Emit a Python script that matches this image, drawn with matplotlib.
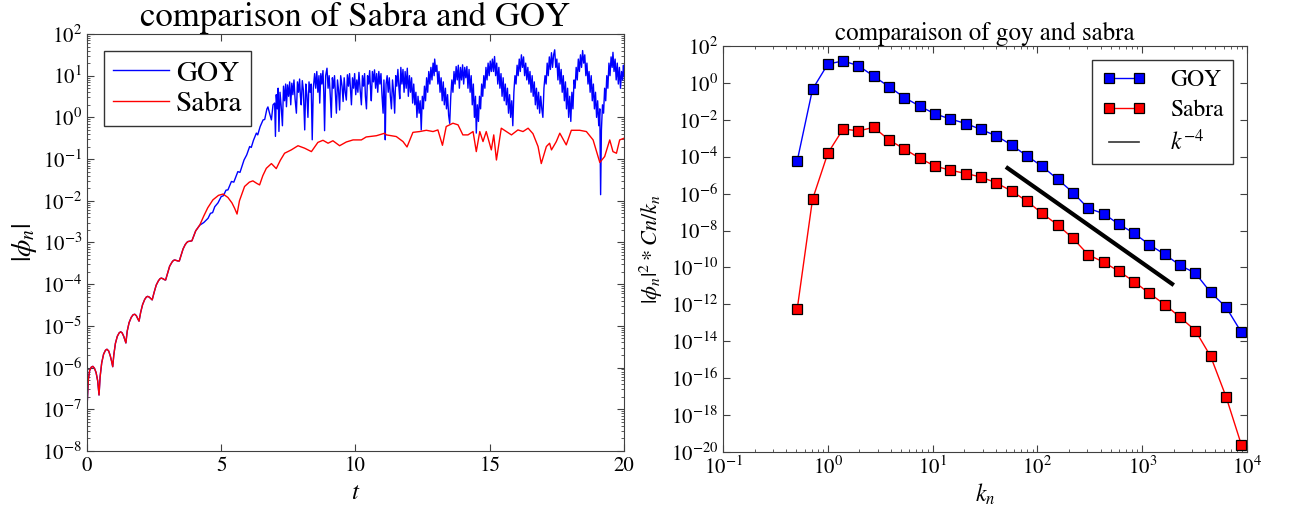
import numpy as np
import matplotlib
matplotlib.use("Agg")
import matplotlib.pyplot as plt
from matplotlib.lines import Line2D
from matplotlib.ticker import LogLocator, LogFormatterSciNotation, NullLocator, MultipleLocator

# ---------------- data: left panel (time series) ----------------
early_t = [0.0, 0.05, 0.1, 0.16, 0.22, 0.28, 0.34, 0.40, 0.45, 0.49, 0.55, 0.62, 0.69, 0.745,
           0.81, 0.87, 0.92, 0.96, 1.0, 1.06, 1.13, 1.2, 1.255, 1.31, 1.37, 1.42, 1.45, 1.5,
           1.57, 1.65, 1.72, 1.78, 1.84, 1.9, 1.94, 2.0, 2.07, 2.15, 2.21, 2.26, 2.32, 2.38,
           2.43, 2.5, 2.58, 2.66, 2.72, 2.77, 2.83, 2.89, 2.93, 3.0, 3.08, 3.17, 3.22, 3.27,
           3.33, 3.39, 3.44, 3.5, 3.58, 3.66, 3.72, 3.76, 3.82, 3.87, 3.91, 3.98, 4.05, 4.12, 4.2]
early_v = [1.0e-7, 5.0e-7, 8.5e-7, 1.02e-6, 1.07e-6, 9.6e-7, 7.6e-7, 4.8e-7, 2.2e-7, 6.0e-7,
           1.3e-6, 2.1e-6, 2.6e-6, 2.75e-6, 2.5e-6, 1.9e-6, 1.4e-6, 1.05e-6, 2.0e-6, 3.8e-6,
           5.6e-6, 6.8e-6, 7.2e-6, 6.8e-6, 5.6e-6, 4.5e-6, 3.9e-6, 7.5e-6, 1.2e-5, 1.6e-5,
           1.85e-5, 1.9e-5, 1.75e-5, 1.45e-5, 1.3e-5, 2.1e-5, 3.2e-5, 4.3e-5, 4.9e-5, 5.1e-5,
           4.9e-5, 4.5e-5, 4.2e-5, 6.3e-5, 9.5e-5, 1.2e-4, 1.35e-4, 1.4e-4, 1.35e-4, 1.28e-4,
           1.26e-4, 1.8e-4, 2.7e-4, 3.4e-4, 3.7e-4, 3.8e-4, 3.7e-4, 3.6e-4, 3.6e-4, 4.8e-4,
           7.0e-4, 8.9e-4, 1.0e-3, 1.05e-3, 1.07e-3, 1.08e-3, 1.1e-3, 1.45e-3, 1.9e-3, 2.2e-3,
           2.6e-3]

sabra_t_late = [4.35, 4.5, 4.69, 4.9, 5.07, 5.25, 5.4, 5.5, 5.59, 5.68, 5.87, 6.05, 6.18, 6.33,
                6.43, 6.55, 6.68, 6.87, 7.05, 7.2, 7.36, 7.61, 7.86, 8.11, 8.36, 8.6, 8.79,
                8.98, 9.16, 9.41, 9.66, 9.91, 10.22, 10.4, 10.78, 11.09, 11.15, 11.52, 11.77,
                11.92, 12.14, 12.39, 12.64, 12.89, 13.07, 13.24, 13.38, 13.63, 13.82, 14.0,
                14.19, 14.38, 14.5, 14.63, 14.75, 14.87, 15.06, 15.15, 15.25, 15.43, 15.62,
                15.81, 16.05, 16.24, 16.43, 16.61, 16.8, 16.92, 17.11, 17.23, 17.3, 17.48,
                17.61, 17.85, 18.04, 18.35, 18.6, 18.85, 19.0, 19.1, 19.28, 19.47, 19.59,
                19.72, 19.84, 20.0]
sabra_v_late = [4.3e-3, 6.8e-3, 1.05e-2, 1.35e-2, 1.45e-2, 1.2e-2, 8.9e-3, 6.6e-3, 4.8e-3,
                1.0e-2, 2.2e-2, 2.8e-2, 3.0e-2, 2.6e-2, 2.4e-2, 4.0e-2, 6.0e-2, 7.8e-2,
                5.9e-2, 9.3e-2, 0.138, 0.166, 0.209, 0.182, 0.151, 0.251, 0.282, 0.24,
                0.275, 0.209, 0.257, 0.288, 0.288, 0.339, 0.363, 0.417, 0.38, 0.347, 0.263,
                0.195, 0.437, 0.457, 0.49, 0.457, 0.5, 0.214, 0.603, 0.724, 0.661, 0.38,
                0.38, 0.457, 0.151, 0.457, 0.263, 0.457, 0.166, 0.38, 0.095, 0.55, 0.457,
                0.38, 0.5, 0.457, 0.55, 0.407, 0.2, 0.078, 0.2, 0.24, 0.166, 0.263, 0.417,
                0.219, 0.49, 0.49, 0.457, 0.288, 0.138, 0.083, 0.115, 0.288, 0.151, 0.138,
                0.288, 0.316]

goy_t_late = [4.35, 4.51, 4.6, 4.68, 4.76, 4.88, 5.0, 5.08, 5.18, 5.25, 5.38, 5.47, 5.62, 5.7,
              5.85, 5.95, 6.06, 6.12, 6.2, 6.31, 6.36, 6.45, 6.56, 6.62, 6.7, 6.74, 6.8,
              6.87, 6.93, 6.99,
              7.02, 7.05, 7.09, 7.12, 7.15, 7.19, 7.23, 7.28, 7.32, 7.36, 7.40, 7.43, 7.47,
              7.51, 7.55, 7.59, 7.63, 7.67, 7.71, 7.75, 7.80, 7.84, 7.88, 7.92, 7.95, 7.98,
              8.02, 8.06, 8.11, 8.15, 8.19, 8.23, 8.27, 8.31, 8.35, 8.39, 8.43, 8.48, 8.52,
              8.56, 8.60, 8.64, 8.67, 8.71, 8.75, 8.79, 8.82, 8.85, 8.89, 8.94, 8.98, 9.02,
              9.06, 9.10, 9.14, 9.18, 9.22, 9.26, 9.29, 9.33, 9.37, 9.41, 9.45, 9.50, 9.54,
              9.58, 9.62, 9.66, 9.70, 9.74, 9.78, 9.82, 9.85, 9.89, 9.93, 9.97, 10.01, 10.05,
              10.09, 10.13, 10.17, 10.22, 10.26, 10.30, 10.34, 10.37, 10.41, 10.45, 10.49,
              10.53, 10.56, 10.59, 10.63, 10.67, 10.71, 10.75, 10.79, 10.83, 10.87, 10.91,
              10.95, 10.99, 11.03, 11.06, 11.09, 11.11, 11.14, 11.18, 11.22, 11.26, 11.30,
              11.34, 11.38, 11.42, 11.46, 11.50, 11.54, 11.58, 11.62, 11.65, 11.69, 11.73,
              11.77, 11.81, 11.85, 11.89, 11.93, 11.97, 12.01, 12.05, 12.09, 12.13, 12.17,
              12.21, 12.25, 12.29, 12.33, 12.37, 12.41, 12.45, 12.49, 12.53, 12.57, 12.61,
              12.65, 12.69, 12.73, 12.77, 12.81, 12.85, 12.89, 12.93, 12.95, 12.99, 13.03,
              13.07, 13.11, 13.15, 13.19, 13.23, 13.27, 13.31, 13.35, 13.39, 13.43, 13.47,
              13.51, 13.55, 13.59, 13.63, 13.67, 13.71, 13.75, 13.79, 13.83, 13.87, 13.91,
              13.95, 13.99, 14.03, 14.07, 14.11, 14.15, 14.19, 14.23, 14.27, 14.31, 14.35,
              14.39, 14.43, 14.47, 14.50, 14.54, 14.58, 14.62, 14.66, 14.70, 14.74, 14.78,
              14.82, 14.86, 14.90, 14.94, 14.98, 15.02, 15.06, 15.10, 15.14, 15.18, 15.22,
              15.26, 15.30, 15.34, 15.38, 15.42, 15.46, 15.50, 15.54, 15.58, 15.62, 15.66,
              15.70, 15.74, 15.78, 15.82, 15.86, 15.90, 15.94, 15.98, 16.02, 16.06, 16.10,
              16.14, 16.18, 16.22, 16.26, 16.30, 16.34, 16.38, 16.42, 16.46, 16.50, 16.54,
              16.58, 16.62, 16.66, 16.70, 16.74, 16.78, 16.82, 16.86, 16.90, 16.94, 16.98,
              17.02, 17.06, 17.10, 17.14, 17.18, 17.22, 17.26, 17.30, 17.34, 17.38, 17.42,
              17.46, 17.50, 17.54, 17.58, 17.62, 17.66, 17.70, 17.74, 17.78, 17.82, 17.86,
              17.90, 17.94, 17.98, 18.02, 18.06, 18.10, 18.14, 18.18, 18.22, 18.26, 18.30,
              18.34, 18.38, 18.42, 18.46, 18.50, 18.54, 18.58, 18.62, 18.66, 18.70, 18.74,
              18.78, 18.82, 18.86, 18.90, 18.94, 18.98, 19.02, 19.06, 19.10, 19.13, 19.16,
              19.20, 19.24, 19.28, 19.32, 19.36, 19.40, 19.44, 19.48, 19.52, 19.56, 19.59,
              19.63, 19.67, 19.71, 19.75, 19.79, 19.83, 19.87, 19.91, 19.95, 19.98, 20.0]
goy_v_late = [3.0e-3, 3.8e-3, 5.0e-3, 5.2e-3, 7.2e-3, 8.9e-3, 1.26e-2, 1.32e-2, 1.8e-2, 1.82e-2,
              2.9e-2, 2.8e-2, 5.0e-2, 4.8e-2, 9.5e-2, 0.126, 0.2, 0.19, 0.28, 0.42, 0.38,
              0.6, 0.87, 0.89, 1.58, 1.78, 1.26, 0.87, 2.0, 2.2,
              0.35, 3.5, 1.6, 5.0, 0.46, 4.0, 2.0, 0.63, 5.6, 2.5, 6.3, 1.8, 6.0,
              3.2, 7.1, 2.0, 6.6, 3.5, 7.9, 2.8, 1.26, 7.1, 4.0, 8.3, 3.2, 2.0,
              7.6, 4.5, 0.5, 6.3, 3.5, 1.0, 7.1, 4.0, 6.3, 0.29, 5.0, 11.2, 5.0,
              12.6, 4.0, 10.0, 2.2, 11.2, 6.3, 13.2, 4.0, 0.48, 10.0, 15.1, 5.0, 10.0,
              3.5, 1.0, 8.9, 5.0, 10.0, 3.2, 1.26, 7.9, 4.5, 1.5, 10.0, 5.6, 2.4,
              8.9, 4.0, 2.6, 10.5, 5.6, 11.2, 4.0, 2.0, 8.9, 5.0, 11.2, 3.5, 7.9,
              4.0, 12.0, 5.0, 2.0, 10.0, 5.6, 11.2, 3.2, 1.6, 10.0, 6.3,
              13.2, 5.0, 2.5, 12.6, 7.1, 13.8, 5.0, 11.2, 4.0, 12.6, 6.3,
              11.2, 3.2, 1.26, 7.9, 2.0, 0.29, 6.3, 10.0, 4.0, 8.9, 3.2,
              1.6, 7.9, 4.0, 1.26, 10.0, 5.6, 14.1, 5.0, 2.8, 15.8, 6.3,
              14.1, 4.0, 12.6, 5.0, 15.1, 3.2, 10.0, 4.0, 8.9, 2.2, 6.3,
              2.0, 4.0, 1.0, 3.2, 1.26, 2.5, 0.5, 3.2, 1.6, 5.6, 2.5,
              8.9, 4.0, 12.6, 6.3, 15.8, 7.9, 20.0, 10.0, 25.0, 12.6, 17.8,
              6.3, 12.6, 4.0, 8.9, 2.5, 7.1, 2.0, 5.0, 1.6, 3.5, 1.12,
              0.72, 3.2, 7.9, 4.0, 12.6, 6.3, 16.6, 7.9, 17.8, 5.0, 15.8,
              7.9, 18.2, 6.3, 15.8, 8.9, 16.6, 5.0, 14.1, 4.0, 10.0, 2.0,
              6.3, 1.0, 3.2, 0.42, 2.0, 0.8, 3.2, 1.6, 6.3, 3.2, 10.0,
              5.0, 15.8, 7.9, 20.0, 10.0, 22.4, 12.6, 25.0, 12.6, 28.8, 10.0,
              20.0, 6.3, 15.8, 5.0, 11.2, 3.2, 8.9, 2.5, 6.3, 2.0, 5.0,
              1.26, 3.5, 1.0, 2.5, 0.63, 4.0, 10.0, 6.3, 17.8, 10.0, 25.0,
              12.6, 31.6, 15.8, 28.2, 10.0, 20.0, 7.9, 15.8, 6.3, 12.6, 4.0,
              10.0, 3.2, 7.1, 2.0, 5.0, 1.6, 4.0, 1.26, 3.2, 1.6, 1.0,
              5.0, 10.0, 6.3, 20.0, 10.0, 28.2, 14.1, 35.5, 15.8, 31.6, 41.7,
              15.8, 25.0, 7.9, 20.0, 6.3, 14.1, 4.0, 10.0, 2.5, 7.1, 1.6,
              5.0, 1.0, 3.2, 0.8, 4.0, 1.6, 7.9, 5.0, 15.8, 7.9, 25.0,
              12.6, 31.6, 15.8, 40.0, 20.0, 31.6, 10.0, 20.0, 6.3, 12.6, 4.0,
              10.0, 2.5, 6.3, 1.6, 4.0, 1.0, 2.5, 0.63, 1.6, 0.014, 0.5,
              2.0, 1.26, 5.0, 2.5, 10.0, 5.0, 20.0, 10.0, 28.2, 15.8, 36.3,
              12.6, 25.0, 7.9, 20.0, 6.3, 15.8, 5.0, 12.6, 7.9, 17.8, 10.0]

goy_t = early_t + goy_t_late
goy_v = early_v + goy_v_late
sabra_t = early_t + sabra_t_late
sabra_v = early_v + sabra_v_late

# ---------------- data: right panel (spectra) ----------------
k_n = [0.51, 0.714, 1.0, 1.4, 1.96, 2.74, 3.84, 5.38, 7.53, 10.5, 14.8, 20.7, 28.9, 40.5,
       56.7, 79.4, 111.0, 156.0, 218.0, 305.0, 427.0, 598.0, 837.0, 1171.0, 1640.0,
       2296.0, 3214.0, 4500.0, 6300.0, 8820.0]
goy_spec = [5.9e-5, 0.45, 10.5, 15.5, 8.5, 2.3, 0.62, 0.16, 5.5e-2, 2.1e-2, 1.1e-2,
            6.3e-3, 3.0e-3, 1.35e-3, 4.3e-4, 1.1e-4, 3.0e-5, 6.0e-6, 1.15e-6, 1.6e-7,
            8.3e-8, 2.2e-8, 7.1e-9, 1.7e-9, 5.1e-10, 1.3e-10, 4.9e-11, 4.4e-12, 7.1e-13,
            3.1e-14]
sabra_spec = [5.5e-13, 4.9e-7, 1.55e-4, 3.2e-3, 2.5e-3, 3.9e-3, 8.1e-4, 2.6e-4, 8.3e-5,
              3.1e-5, 1.86e-5, 1.23e-5, 8.0e-6, 3.8e-6, 1.38e-6, 3.9e-7, 8.5e-8, 2.0e-8,
              3.8e-9, 4.9e-10, 1.95e-10, 6.2e-11, 1.7e-11, 3.9e-12, 9.8e-13, 2.0e-13,
              3.8e-14, 1.5e-15, 1.0e-17, 2.5e-20]
ref_k = [50.0, 2000.0]
ref_v = [2.8e-5, 1.1e-11]

# ---------------- style ----------------
plt.rcParams.update({
    "font.family": "serif",
    "font.serif": ["STIXGeneral", "DejaVu Serif"],
    "mathtext.fontset": "stix",
    "xtick.direction": "in",
    "ytick.direction": "in",
    "xtick.top": True,
    "ytick.right": True,
    "xtick.major.size": 5,
    "ytick.major.size": 5,
    "xtick.minor.size": 2.5,
    "ytick.minor.size": 2.5,
    "axes.edgecolor": "0.25",
    "xtick.color": "0.25",
    "ytick.color": "0.25",
    "xtick.labelcolor": "black",
    "ytick.labelcolor": "black",
})

fig = plt.figure(figsize=(12.9, 5.07), dpi=100)
ax1 = fig.add_axes([0.0674, 0.1105, 0.4163, 0.8225])
ax2 = fig.add_axes([0.5605, 0.1085, 0.4062, 0.8008])

# left panel
ax1.plot(goy_t, goy_v, color="#0000ff", lw=1.0, label="GOY")
ax1.plot(sabra_t, sabra_v, color="#ff0000", lw=1.0, label="Sabra")
ax1.set_yscale("log")
ax1.set_xlim(0, 20)
ax1.set_ylim(1e-8, 1e2)
ax1.xaxis.set_major_locator(MultipleLocator(5))
ax1.yaxis.set_major_locator(LogLocator(base=10, numticks=20))
ax1.yaxis.set_minor_locator(LogLocator(base=10, subs=np.arange(2, 10), numticks=20))
ax1.tick_params(labelsize=15)
ax1.set_xlabel("$t$", fontsize=18)
ax1.set_ylabel(r"$|\phi_n|$", fontsize=20, labelpad=2)
ax1.set_title("comparison of Sabra and GOY", fontsize=25, pad=4)
leg1 = ax1.legend(loc="upper left", fontsize=21, fancybox=False, framealpha=1,
                  edgecolor="0.2", handlelength=1.9, handletextpad=0.25,
                  borderpad=0.3, labelspacing=0.15, borderaxespad=0.6)
leg1.get_frame().set_linewidth(1.0)

# right panel
ax2.loglog(k_n, goy_spec, color="#0000ff", lw=1.0, marker="s", ms=6.5,
           mec="black", mew=0.9, label="GOY")
ax2.loglog(k_n, sabra_spec, color="#ff0000", lw=1.0, marker="s", ms=6.5,
           mec="black", mew=0.9, label="Sabra")
ax2.loglog(ref_k, ref_v, color="black", lw=3, solid_capstyle="butt")
ax2.set_xlim(1e-1, 1e4)
ax2.set_ylim(1e-20, 1e2)
ax2.yaxis.set_major_locator(LogLocator(base=100, numticks=30))
ax2.yaxis.set_major_formatter(LogFormatterSciNotation(base=10))
ax2.yaxis.set_minor_locator(NullLocator())
ax2.xaxis.set_major_locator(LogLocator(base=10, numticks=20))
ax2.xaxis.set_minor_locator(LogLocator(base=10, subs=np.arange(2, 10), numticks=20))
ax2.tick_params(labelsize=15)
ax2.set_xlabel("$k_n$", fontsize=17, labelpad=2)
ax2.set_ylabel(r"$|\phi_n|^2 * Cn/k_n$", fontsize=16)
ax2.set_title("comparaison of goy and sabra", fontsize=18, pad=3)
h_goy, h_sab = ax2.get_lines()[0], ax2.get_lines()[1]
h_ref = Line2D([], [], color="0.2", lw=1.2)
leg2 = ax2.legend([h_goy, h_sab, h_ref], ["GOY", "Sabra", "$k^{-4}$"], loc="upper right",
                  fontsize=17, numpoints=2, fancybox=False, framealpha=1, edgecolor="0.2",
                  handlelength=1.9, handletextpad=1.0, borderpad=0.4, labelspacing=0.35,
                  borderaxespad=0.6)
leg2.get_frame().set_linewidth(1.0)

fig.savefig("out.png", dpi=100, facecolor="white")
